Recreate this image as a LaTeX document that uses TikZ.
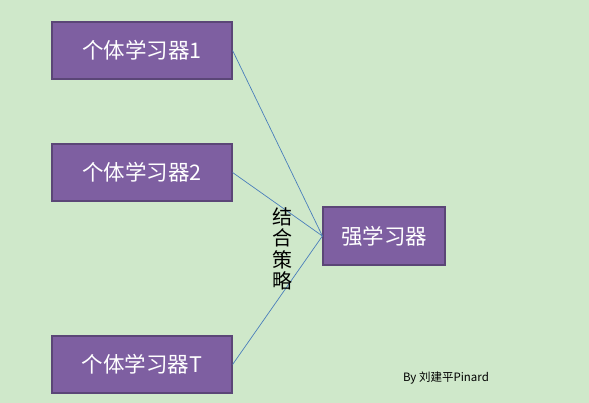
\documentclass[tikz,border=0pt]{standalone}
\usepackage{fontspec}
\usepackage{xcolor}
\newfontfamily\cjk{Noto Sans CJK SC}
\definecolor{bgGreen}{HTML}{CFE8CA}
\definecolor{boxPurple}{HTML}{7E5FA1}
\definecolor{boxEdge}{HTML}{5B4677}
\definecolor{linkBlue}{HTML}{4A7EBB}

\begin{document}
\begin{tikzpicture}[x=1pt,y=-1pt,
        learner/.style={draw=boxEdge, line width=1.2pt, fill=boxPurple,
            text=white, minimum width=180pt, minimum height=57pt,
            inner sep=0pt, font=\cjk\fontsize{21.5}{24}\selectfont},
        strong/.style={learner, minimum width=122pt, minimum height=58pt},
        link/.style={draw=linkBlue, line width=0.7pt}]
            \fill[bgGreen] (0,0) rectangle (589,403);
            \useasboundingbox (0,0) rectangle (589,403);
            \node (L1) [learner] at (142,50.5)  {个体学习器1};
            \node (L2) [learner] at (142,172.5) {个体学习器2};
            \node (LT) [learner] at (142,364.5) {个体学习器T};
            \node (S)  [strong]  at (384,236)   {强学习器};
            \draw[link] (L1.east) -- (S.west);
            \draw[link] (L2.east) -- (S.west);
            \draw[link] (LT.east) -- (S.west);
            \node (comb) [align=center, inner sep=0pt,
                font=\cjk\fontsize{20}{21.5}\selectfont] at (282,249)
                {结\\合\\策\\略};
            \node (by) [inner sep=0pt, font=\cjk\fontsize{11.5}{13}\selectfont]
                at (446,378) {By 刘建平Pinard};
        \end{tikzpicture}
\end{document}
